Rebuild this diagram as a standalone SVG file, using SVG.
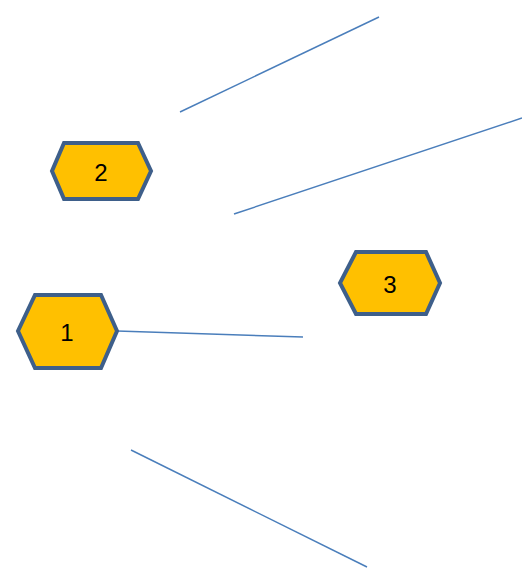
<svg xmlns="http://www.w3.org/2000/svg" width="522" height="568" viewBox="0 0 522 568">
<style>
.hex{fill:#FFC000;stroke:#3E5F8A;stroke-width:4;stroke-linejoin:miter}
.lbl{font-family:"Liberation Sans","DejaVu Sans",sans-serif;font-size:24px;fill:#000;text-anchor:middle;dominant-baseline:central}
.edge{stroke:#4A7EBB;stroke-width:1.5;fill:none}
</style>
<rect width="522" height="568" fill="#fff"/>
<g id="connectors">
<line class="edge" x1="180" y1="112" x2="379" y2="17"/>
<line class="edge" x1="234" y1="214" x2="522" y2="118"/>
<line class="edge" x1="117" y1="331" x2="303" y2="337"/>
<line class="edge" x1="131" y1="450" x2="367" y2="567"/>
</g>
<g id="node2">
<polygon class="hex" points="64,143 138,143 151,171 138,199 64,199 52,171"/>
<text class="lbl" x="101" y="172">2</text>
</g>
<g id="node1">
<polygon class="hex" points="35,295 101,295 117,331 101,368 35,368 18,331"/>
<text class="lbl" x="67" y="332">1</text>
</g>
<g id="node3">
<polygon class="hex" points="356,252 426,252 440,283 426,314 356,314 340,283"/>
<text class="lbl" x="390" y="284">3</text>
</g>
</svg>
